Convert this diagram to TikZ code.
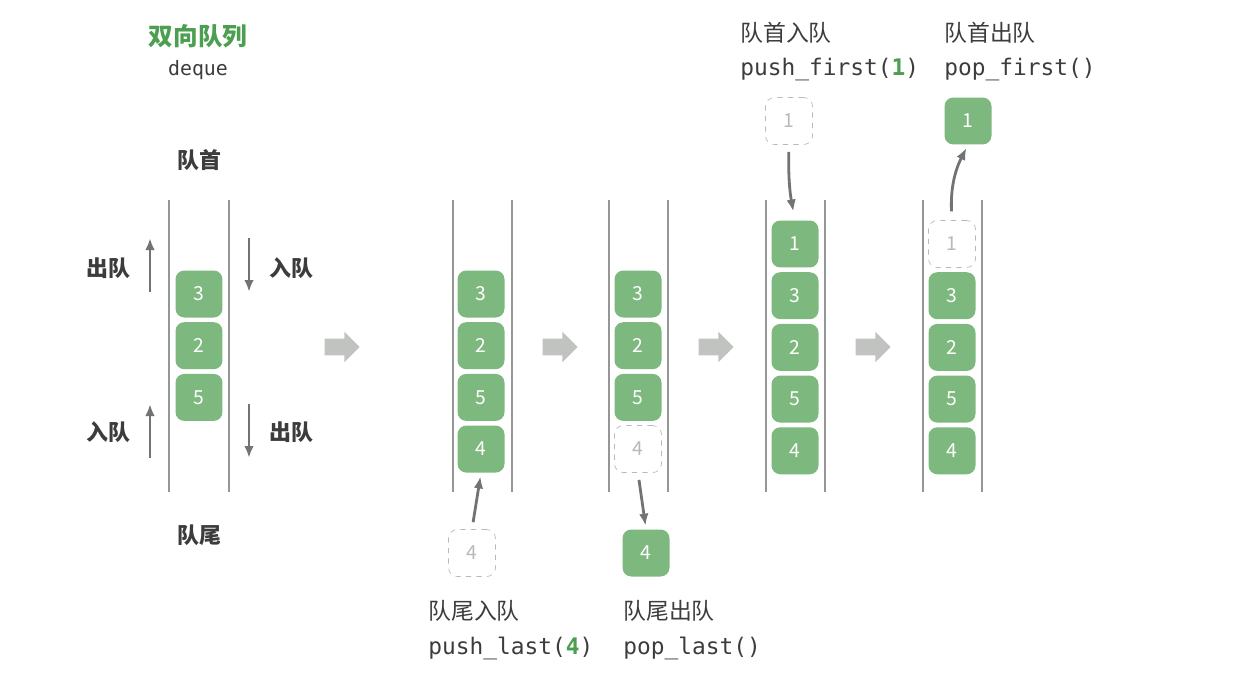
\documentclass[tikz,border=0pt]{standalone}
\usepackage{fontspec}
\setmainfont{Noto Sans CJK SC}
\setmonofont{DejaVu Sans Mono}
\usetikzlibrary{arrows.meta,positioning,shapes.arrows}
\definecolor{cellgreen}{RGB}{125,184,126}
\definecolor{titlegreen}{RGB}{76,158,80}
\definecolor{wallgray}{RGB}{150,150,150}
\definecolor{arrowgray}{RGB}{115,115,115}
\definecolor{textgray}{RGB}{60,60,60}
\definecolor{ghostgray}{RGB}{185,185,185}
\definecolor{stepgray}{RGB}{192,195,192}

\begin{document}
\begin{tikzpicture}[
  x=0.02cm, y=-0.02cm,
  cell/.style={
    fill=cellgreen,
    rounded corners=5pt,
    minimum size=0.94cm,
    inner sep=0pt,
    text=white,
    font=\fontsize{11}{12}\selectfont
  },
  ghost/.style={cell, fill=white, draw=ghostgray, dashed, text=ghostgray},
  wall/.style={draw=wallgray, line width=0.9pt},
  flow/.style={-{Latex[length=2.4mm,width=1.9mm]}, draw=arrowgray, line width=1.6pt},
  side/.style={font=\bfseries\fontsize{12.5}{14}\selectfont, text=textgray},
  caption/.style={anchor=west, inner sep=0pt, font=\fontsize{13}{15}\selectfont, text=textgray},
  code/.style={anchor=west, inner sep=0pt, font=\ttfamily\fontsize{13}{15}\selectfont, text=textgray},
  stepper/.style={
    single arrow,
    fill=stepgray,
    minimum height=0.7cm,
    inner xsep=0pt,
    inner ysep=0.16cm,
    single arrow head extend=0.14cm
  }
]
\useasboundingbox (0,0) rectangle (1258,700);

% title
\node[font=\bfseries\fontsize{14}{16}\selectfont, text=titlegreen] (title) at (198,36) {双向队列};
\node[font=\ttfamily\fontsize{11.3}{13}\selectfont, text=textgray] (titlesub) at (198,70) {deque};

% initial deque
\node[side] (head) at (199,160) {队首};
\node[side] (tail) at (199,535) {队尾};
\draw[wall] (169,200) -- (169,492);
\draw[wall] (229,200) -- (229,492);
\node[cell] (a3) at (199,294) {3};
\node[cell, below=0.08cm of a3] (a2) {2};
\node[cell, below=0.08cm of a2] (a5) {5};

\node[side] (outhead) at (108,268) {出队};
\node[side] (inhead) at (291,268) {入队};
\node[side] (intail) at (108,432) {入队};
\node[side] (outtail) at (291,432) {出队};
\coordinate (oh1) at (150,292);
\coordinate (oh2) at (150,238);
\coordinate (ih1) at (249,238);
\coordinate (ih2) at (249,292);
\coordinate (it1) at (150,458);
\coordinate (it2) at (150,404);
\coordinate (ot1) at (249,404);
\coordinate (ot2) at (249,458);
\draw[flow] (oh1) -- (oh2);
\draw[flow] (ih1) -- (ih2);
\draw[flow] (it1) -- (it2);
\draw[flow] (ot1) -- (ot2);

% push_last
\draw[wall] (453,200) -- (453,492);
\draw[wall] (512,200) -- (512,492);
\node[cell] (b3) at (481,294) {3};
\node[cell, below=0.08cm of b3] (b2) {2};
\node[cell, below=0.08cm of b2] (b5) {5};
\node[cell, below=0.08cm of b5] (b4) {4};
\node[ghost] (b4n) at (472,553) {4};
\draw[flow, shorten <=4pt, shorten >=2pt] (b4n.north) -- (b4.south);
\node[caption] (pushlastcn) at (428,611) {队尾入队};
\node[code] (pushlast) at (428,648) {push\_last({\color{titlegreen}\bfseries 4})};

% pop_last
\draw[wall] (609,200) -- (609,492);
\draw[wall] (668,200) -- (668,492);
\node[cell] (c3) at (638,294) {3};
\node[cell, below=0.08cm of c3] (c2) {2};
\node[cell, below=0.08cm of c2] (c5) {5};
\node[ghost, below=0.08cm of c5] (c4) {4};
\node[cell] (c4n) at (646,553) {4};
\draw[flow, shorten <=4pt, shorten >=2pt] (c4.south) -- (c4n.north);
\node[caption] (poplastcn) at (623,611) {队尾出队};
\node[code] (poplast) at (623,648) {pop\_last()};

% push_first
\draw[wall] (766,200) -- (766,492);
\draw[wall] (825,200) -- (825,492);
\node[cell] (d1) at (795,244) {1};
\node[cell, below=0.08cm of d1] (d3) {3};
\node[cell, below=0.08cm of d3] (d2) {2};
\node[cell, below=0.08cm of d2] (d5) {5};
\node[cell, below=0.08cm of d5] (d4) {4};
\node[ghost] (d1n) at (789,121) {1};
\draw[flow, shorten <=4pt, shorten >=5pt] (d1n.south) to[bend right=6] (d1.north);
\node[caption] (pushfirstcn) at (740,33) {队首入队};
\node[code] (pushfirst) at (740,70) {push\_first({\color{titlegreen}\bfseries 1})};

% pop_first
\draw[wall] (923,200) -- (923,492);
\draw[wall] (982,200) -- (982,492);
\node[ghost] (e1) at (952,244) {1};
\node[cell, below=0.08cm of e1] (e3) {3};
\node[cell, below=0.08cm of e3] (e2) {2};
\node[cell, below=0.08cm of e2] (e5) {5};
\node[cell, below=0.08cm of e5] (e4) {4};
\node[cell] (e1n) at (968,121) {1};
\draw[flow, shorten <=5pt, shorten >=2pt] (e1.north) to[bend left=15] (e1n.south);
\node[caption] (popfirstcn) at (944,33) {队首出队};
\node[code] (popfirst) at (944,70) {pop\_first()};

% steps
\node[stepper] (stepa) at (338,347) {};
\node[stepper] (stepb) at (556,347) {};
\node[stepper] (stepc) at (712,347) {};
\node[stepper] (stepd) at (869,347) {};
\end{tikzpicture}
\end{document}
